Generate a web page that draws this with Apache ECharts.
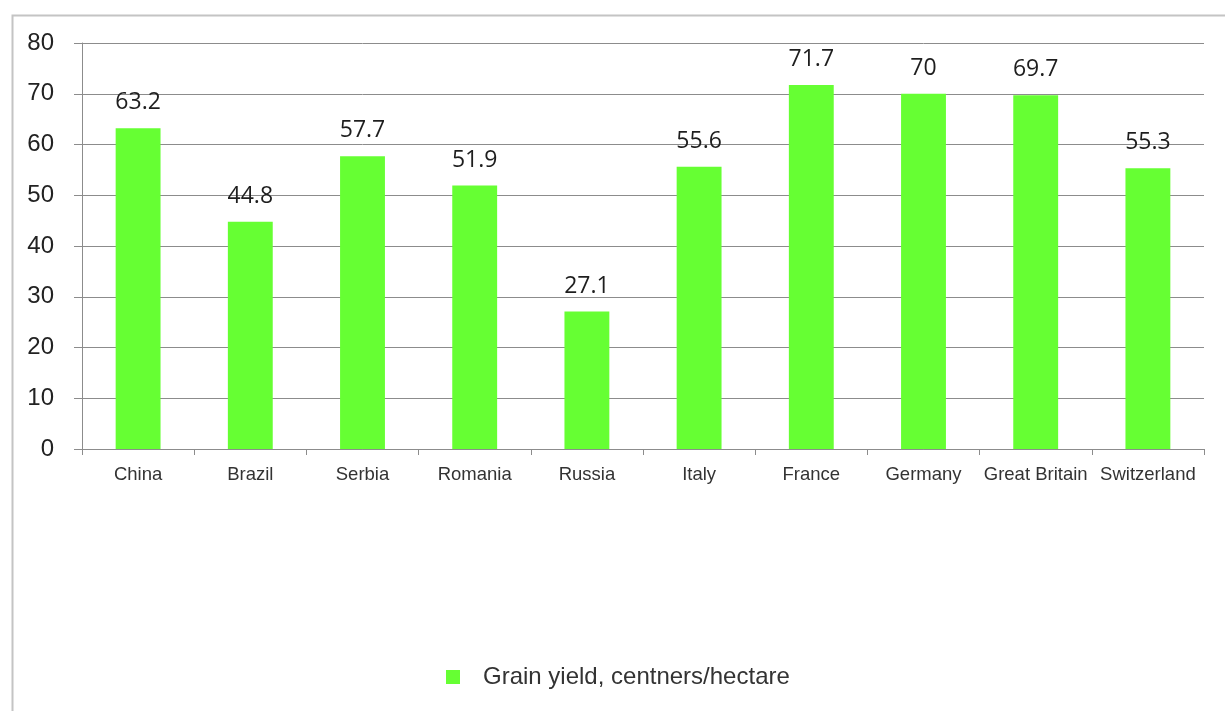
<!DOCTYPE html>
<html><head><meta charset="utf-8">
<script src="https://cdn.jsdelivr.net/npm/echarts@6/dist/echarts.min.js"></script>
<style>html,body{margin:0;padding:0;background:#fff}#c{width:1225px;height:711px}</style>
</head><body><div id="c"></div>
<script>
const categories = ['China','Brazil','Serbia','Romania','Russia','Italy','France','Germany','Great Britain','Switzerland'];
const yieldValues = [63.2, 44.8, 57.7, 51.9, 27.1, 55.6, 71.7, 70, 69.7, 55.3];
const seriesName = 'Grain yield, centners/hectare';

const chart = echarts.init(document.getElementById('c'));
chart.setOption({
  animation: false,
  graphic: [{
    type: 'rect', left: 10, top: 13,
    shape: { width: 1230, height: 720 },
    style: { fill: 'none', stroke: '#c4c4c4', lineWidth: 2 }
  }],
  grid: { left: 82, right: 21, top: 43, bottom: 262, containLabel: false },
  legend: {
    top: 660, left: 441,
    itemWidth: 14, itemHeight: 14, itemGap: 10,
    icon: 'rect',
    textStyle: { fontFamily: 'Liberation Sans, Arial', fontSize: 24, color: '#333', padding: [0,0,0,18] },
    data: [seriesName]
  },
  xAxis: {
    type: 'category', data: categories,
    axisLine: { lineStyle: { color: '#8c8c8c', width: 1 } },
    axisTick: { show: true, length: 6, alignWithLabel: false, lineStyle: { color: '#8c8c8c' } },
    axisLabel: { interval: 0, margin: 16, fontFamily: 'Liberation Sans, Arial', fontSize: 18.5, color: '#333' }
  },
  yAxis: {
    type: 'value', min: 0, max: 80, interval: 10,
    axisLine: { show: true, lineStyle: { color: '#8c8c8c', width: 1 } },
    axisTick: { show: true, length: 8, lineStyle: { color: '#8c8c8c' } },
    splitLine: { lineStyle: { color: '#8c8c8c', width: 1 } },
    axisLabel: { margin: 28, fontFamily: 'Liberation Sans, Arial', fontSize: 24, color: '#222' }
  },
  series: [{
    name: seriesName, type: 'bar', data: yieldValues,
    barWidth: '40%',
    itemStyle: { color: '#66ff33' },
    label: { show: true, position: 'top', distance: 14, fontFamily: 'Open Sans, Liberation Sans', fontSize: 23, color: '#1e1e1e' }
  }]
});
</script></body></html>
